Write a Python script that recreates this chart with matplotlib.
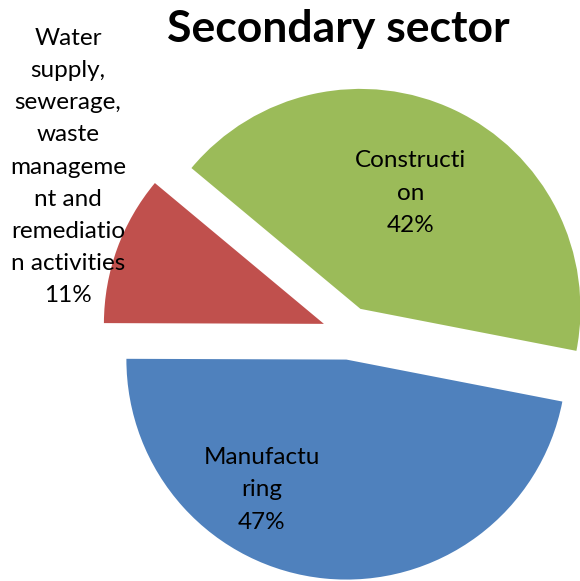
import matplotlib.pyplot as plt

labels = ["Manufactu\nring", "Water\nsupply,\nsewerage,\nwaste\nmanageme\nnt and\nremediatio\nn activities", "Constructi\non"]
values = [47, 11, 42]
colors = ["#4F81BD", "#C0504D", "#9BBB59"]

plt.rcParams['font.family'] = ['Lato', 'DejaVu Sans']

fig = plt.figure(figsize=(5.8, 5.81), dpi=100)
ax = fig.add_axes([0, 0, 1, 1])

H = 581
ax.pie(values, explode=[26.7] * 3, colors=colors, startangle=-11,
       counterclock=False, radius=220, center=(349, H - 333),
       wedgeprops=dict(linewidth=0))
ax.set_xlim(0, 580)
ax.set_ylim(0, H)
ax.set_aspect('auto')
ax.axis('off')

total = sum(values)
# label positions (pixel coords, y from top)
pos = [(262, 490), (68, 167), (411, 193)]
for lab, v, (x, y) in zip(labels, values, pos):
    ax.text(x, H - y, f"{lab}\n{v / total * 100:.0f}%", ha='center', va='center',
            fontsize=17.5, linespacing=1.66, color='black')

fig.text(338 / 580, 1 - 29 / H, "Secondary sector", ha='center', va='center',
         fontsize=32, fontweight='bold')

fig.savefig("out.png", dpi=100)
